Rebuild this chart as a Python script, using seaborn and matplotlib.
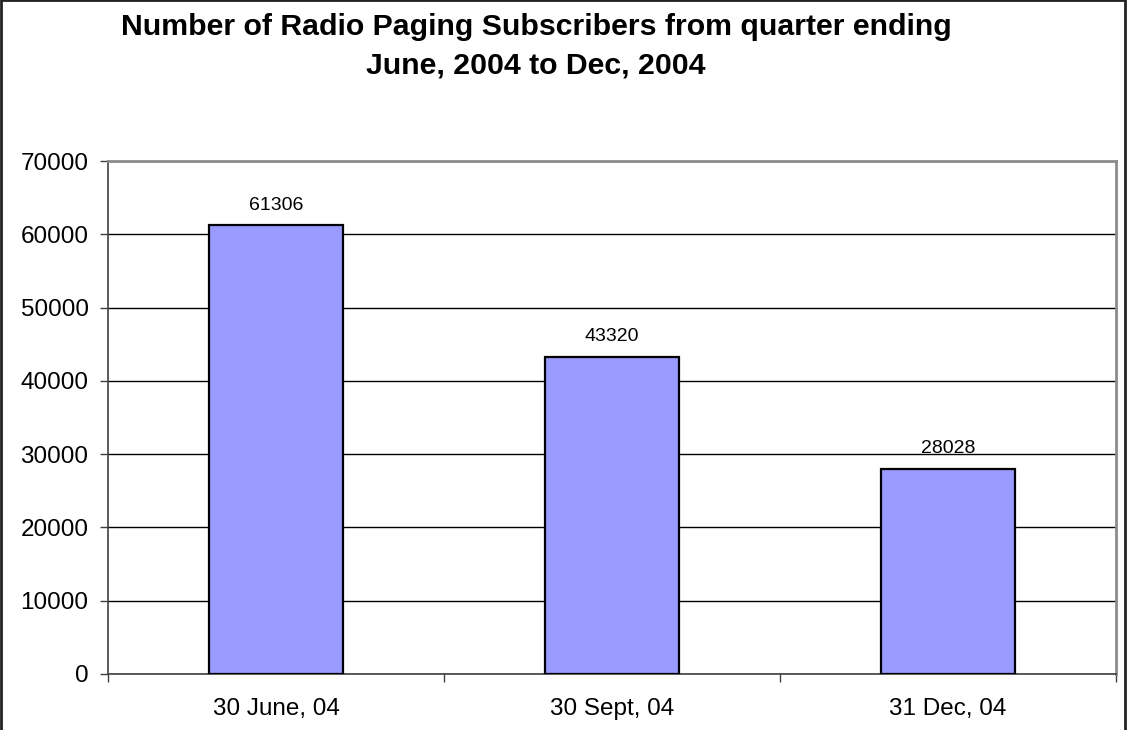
import matplotlib
matplotlib.use("Agg")
import matplotlib.pyplot as plt
import seaborn as sns
import pandas as pd
from matplotlib.patches import Rectangle

categories = ["30 June, 04", "30 Sept, 04", "31 Dec, 04"]
subscribers = [61306, 43320, 28028]
yticks = [0, 10000, 20000, 30000, 40000, 50000, 60000, 70000]
title = "Number of Radio Paging Subscribers from quarter ending\nJune, 2004 to Dec, 2004"

sns.set_style("white")
plt.rcParams['font.family'] = ['Liberation Sans', 'DejaVu Sans']
plt.rcParams['text.color'] = 'black'
plt.rcParams['xtick.color'] = 'black'
plt.rcParams['ytick.color'] = 'black'

df = pd.DataFrame({"quarter": categories, "subs": subscribers})

fig = plt.figure(figsize=(11.27, 7.30), dpi=100)
ax = fig.add_axes([108/1127, 1-674/730, (1116-108)/1127, (674-161)/730])

sns.barplot(data=df, x="quarter", y="subs", color="#9999FF", saturation=1,
            edgecolor="black", linewidth=1.6, width=0.40, ax=ax, zorder=3)

ax.set_xlim(-0.5, 2.5)
ax.set_ylim(0, 70000)
ax.set_yticks(yticks)
ax.set_yticklabels([str(t) for t in yticks], fontsize=17.5)
ax.yaxis.grid(True, color="black", linewidth=1.0, zorder=0)
ax.set_axisbelow(True)
ax.set_xlabel("")
ax.set_ylabel("")

ax.tick_params(axis="y", which="major", length=6, width=1, color="#404040",
               labelcolor="black", direction="out", pad=8, left=True)
ax.tick_params(axis="x", which="major", length=0, pad=17, labelsize=17.5,
               labelcolor="black")
ax.set_xticks([-0.5, 0.5, 1.5, 2.5], minor=True)
ax.tick_params(axis="x", which="minor", length=6, width=1, color="#404040",
               direction="out", bottom=True)

for s in ["top", "right"]:
    ax.spines[s].set_color("#8c8c8c")
    ax.spines[s].set_linewidth(2)
for s in ["left", "bottom"]:
    ax.spines[s].set_color("#404040")
    ax.spines[s].set_linewidth(1.2)

for i, v in enumerate(subscribers):
    ax.annotate(str(v), (i, v), xytext=(0, 8), textcoords="offset points",
                ha="center", va="bottom", fontsize=14, color="black")

fig.text(536/1127, 1-73/730, title, ha="center", va="baseline",
         fontsize=21.8, fontweight="bold", linespacing=1.45, color="black")

fig.add_artist(Rectangle((0.0008, -0.05), 0.9975, 1.0495, transform=fig.transFigure,
                         fill=False, edgecolor="#222222", linewidth=2))

fig.savefig("out.png", dpi=100)
